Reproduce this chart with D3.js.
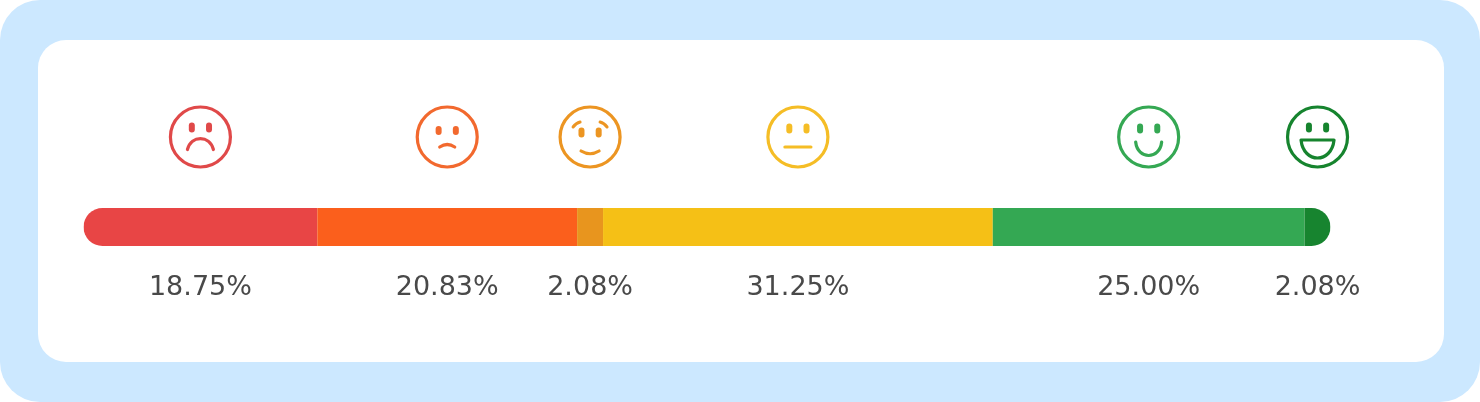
<!DOCTYPE html>
<html><head><meta charset="utf-8">
<script src="https://cdnjs.cloudflare.com/ajax/libs/d3/7.8.5/d3.min.js"></script>
<style>html,body{margin:0;padding:0;background:#fff;overflow:hidden}svg{display:block}</style>
</head><body><svg id="c" width="1480" height="402"></svg>
<script>
const categories = ["very-bad","bad","mixed","neutral","good","very-good"];
const values = [18.75, 20.83, 2.08, 31.25, 25.00, 2.08];
const labels = ["18.75%","20.83%","2.08%","31.25%","25.00%","2.08%"];
const barColors = ["#e84545","#fb5f1c","#e8951e","#f5c016","#34a853","#17842f"];
const faceColors = ["#e04a4a","#f2692f","#ec9522","#f5bd25","#34a853","#17842f"];
const eyeY = [-9.5,-6.5,-4.5,-8.5,-8.5,-9.5];
const eyeH = [10,9,10,10,10,10];
const mouths = [
  "M-13,12.5 C-9,-2 9,-2 13,12.5",
  "M-7.5,10 Q0,5 7.5,10",
  "M-9,14 Q0,19.5 9,14",
  "M-13,10 H13",
  "M-13,5 C-11,23 11,23 13,5",
  "M-16.5,3 H16.5 C14,27 -14,27 -16.5,3 Z"
];
const brows = [null,null,["M-17,-10 Q-14,-14 -10,-15","M17,-10 Q14,-14 10,-15"],null,null,null];

const svg = d3.select("#c");
const W = 1480, H = 402;
svg.append("rect").attr("width",W).attr("height",H).attr("rx",40).attr("fill","#cce8ff");
svg.append("rect").attr("x",38).attr("y",40).attr("width",1406).attr("height",322).attr("rx",28).attr("fill","#fff");

const defs = svg.append("defs");
defs.append("filter").attr("id","soft").attr("x","-10%").attr("y","-10%").attr("width","120%").attr("height","120%")
  .append("feGaussianBlur").attr("stdDeviation",0.45);

const x = d3.scaleLinear().domain([0,d3.sum(values)]).range([83.5,1330.5]);
const barY = 208, barH = 38, faceY = 137, labelY = 295;
const cum = d3.cumsum(values);
const segs = values.map((v,i)=>({i,start:cum[i]-v,end:cum[i]}));

defs.append("clipPath").attr("id","bar").append("rect")
  .attr("x",x.range()[0]).attr("y",barY).attr("width",x.range()[1]-x.range()[0]).attr("height",barH).attr("rx",barH/2);

svg.append("g").attr("clip-path","url(#bar)").selectAll("rect").data(segs).join("rect")
  .attr("x",d=>x(d.start)).attr("y",barY).attr("width",d=>x(d.end)-x(d.start)).attr("height",barH)
  .attr("fill",d=>barColors[d.i]);

const mid = d=>x((d.start+d.end)/2);
const g = svg.append("g").attr("filter","url(#soft)").selectAll("g").data(segs).join("g")
  .attr("transform",d=>`translate(${mid(d)},${faceY})`)
  .attr("fill","none").attr("stroke",d=>faceColors[d.i]).attr("stroke-linecap","round").attr("stroke-linejoin","round");
g.append("circle").attr("r",30).attr("stroke-width",3.2);
g.append("path").attr("d",d=>mouths[d.i]).attr("stroke-width",3.2);
[-8.6,8.6].forEach(ex=>{
  g.append("rect").attr("x",ex-3).attr("y",d=>eyeY[d.i]-eyeH[d.i]/2).attr("width",6).attr("height",d=>eyeH[d.i]).attr("rx",3)
   .attr("fill",d=>faceColors[d.i]).attr("stroke","none");
});
g.filter(d=>brows[d.i]).selectAll("path.b").data(d=>brows[d.i]).join("path").attr("class","b").attr("d",d=>d).attr("stroke-width",3);

svg.append("g").attr("filter","url(#soft)").selectAll("text").data(segs).join("text")
  .attr("x",mid).attr("y",labelY).attr("text-anchor","middle")
  .attr("font-family","'DejaVu Sans'").attr("font-size",27).attr("fill","#4a4a4a")
  .text(d=>labels[d.i]);
</script></body></html>
